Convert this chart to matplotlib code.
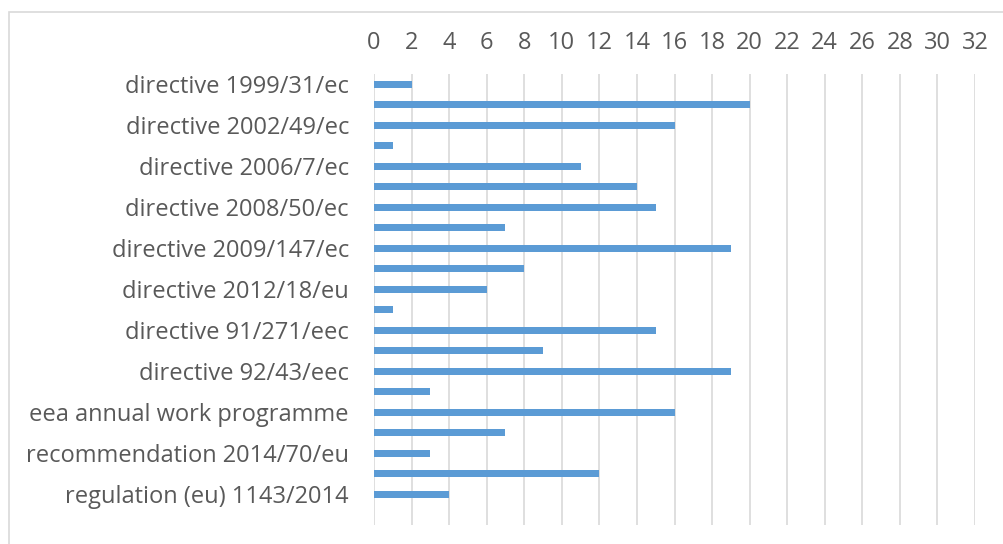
import matplotlib
matplotlib.use("Agg")
import matplotlib.pyplot as plt
from matplotlib.patches import Rectangle

# categories top to bottom; only every other one carries a visible label
labels = [
    "directive 1999/31/ec", "",
    "directive 2002/49/ec", "",
    "directive 2006/7/ec", "",
    "directive 2008/50/ec", "",
    "directive 2009/147/ec", "",
    "directive 2012/18/eu", "",
    "directive 91/271/eec", "",
    "directive 92/43/eec", "",
    "eea annual work programme", "",
    "recommendation 2014/70/eu", "",
    "regulation (eu) 1143/2014", "",
]
values = [2, 20, 16, 1, 11, 14, 15, 7, 19, 8, 6, 1, 15, 9, 19, 3, 16, 7, 3, 12, 4, 0]
xticks = list(range(0, 33, 2))

bar_color = "#5b9bd5"
text_color = "#595959"
grid_color = "#d9d9d9"

plt.rcParams["font.family"] = ["Open Sans", "DejaVu Sans"]

fig = plt.figure(figsize=(10.04, 5.44), dpi=100)
ax = fig.add_axes([374 / 1004, 19 / 544, 601 / 1004, 451 / 544])

ypos = list(range(len(values)))
ax.barh(ypos, values, height=0.35, color=bar_color, zorder=3)
ax.set_ylim(len(values) - 0.5, -0.5)
ax.set_xlim(0, 32)

ax.set_yticks(ypos)
ax.set_yticklabels(labels, fontsize=17, color=text_color)
ax.set_xticks(xticks)
ax.set_xticklabels([str(t) for t in xticks], fontsize=17, color=text_color)
ax.xaxis.tick_top()
ax.tick_params(axis="both", length=0)
ax.tick_params(axis="x", pad=14)
ax.tick_params(axis="y", pad=18)
ax.grid(axis="x", color=grid_color, linewidth=1.2, zorder=0)
for s in ax.spines.values():
    s.set_visible(False)

# chart-area border
fig.patches.append(Rectangle((9 / 1004, -0.05), 1.1, 1 - 12 / 544 + 0.05,
                             transform=fig.transFigure, fill=False,
                             edgecolor="#d9d9d9", linewidth=1.2))

fig.savefig("out.png", dpi=100)
